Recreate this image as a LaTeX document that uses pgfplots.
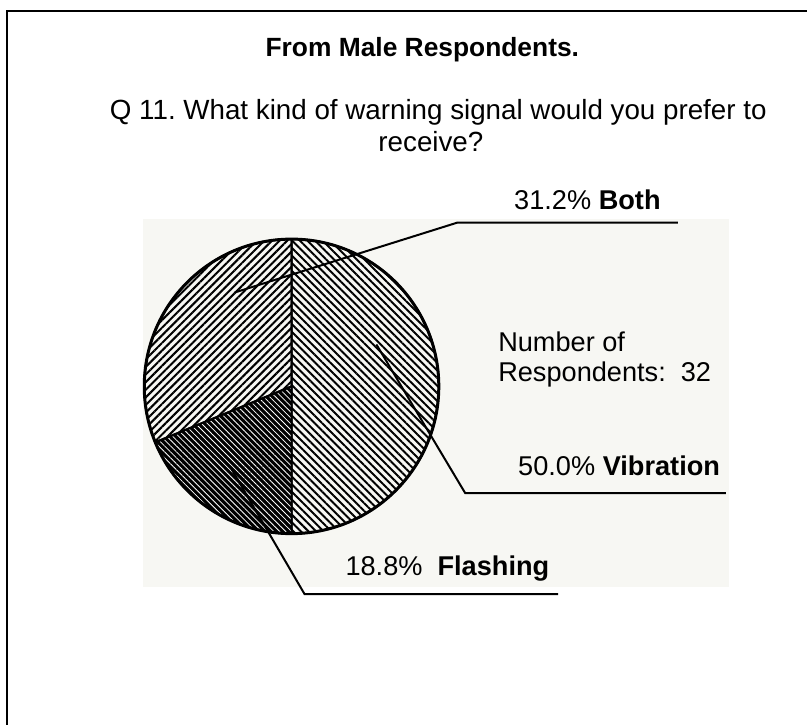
\documentclass[border=0pt]{standalone}
\usepackage{fontspec}
\setmainfont{Liberation Sans}
\usepackage{pgfplots}
\pgfplotsset{compat=1.18}
\usepackage{pgfplotstable}
\usetikzlibrary{patterns.meta}
\definecolor{panel}{RGB}{247,247,243}
\pgfplotstableread{
label value
Vibration 50.0
Flashing 18.8
Both 31.2
}\piedata
\frenchspacing
\begin{document}
\begin{tikzpicture}
\pgfplotstablegetelem{0}{value}\of\piedata \let\vVib\pgfplotsretval
\pgfplotstablegetelem{1}{value}\of\piedata \let\vFla\pgfplotsretval
\pgfplotstablegetelem{2}{value}\of\piedata \let\vBot\pgfplotsretval
\pgfmathsetmacro\aA{90}
\pgfmathsetmacro\aB{\aA-3.6*\vVib}
\pgfmathsetmacro\aC{\aB-3.6*\vFla}
\pgfmathsetmacro\aD{\aC-3.6*\vBot}
\begin{axis}[hide axis, scale only axis, width=404pt, height=363pt,
  xmin=0, xmax=808, ymin=0, ymax=726, clip=false]
\addplot[draw=none] coordinates {(0,0) (808,726)};
\addplot[fill=panel, draw=none] coordinates {(143,138) (730,138) (730,507) (143,507)};
\addplot[black, line width=1.3pt] coordinates {(7,0) (7,715) (808,715)};
% Vibration
\draw[pattern={Lines[angle=-45,distance=2.7pt,line width=1pt]}, draw=black, line width=1pt]
  (axis cs:292,339) -- ++(\aA:73.75pt) arc[start angle=\aA, end angle=\aB, radius=73.75pt] -- cycle;
% Flashing
\fill[black] (axis cs:292,339) -- ++(\aB:73.75pt) arc[start angle=\aB, end angle=\aC, radius=73.75pt] -- cycle;
\draw[pattern={Lines[angle=-45,distance=2.1pt,line width=0.4pt]}, pattern color=white, draw=black, line width=1pt]
  (axis cs:292,339) -- ++(\aB:73.75pt) arc[start angle=\aB, end angle=\aC, radius=73.75pt] -- cycle;
% Both
\draw[pattern={Lines[angle=45,distance=2.7pt,line width=1pt]}, draw=black, line width=1pt]
  (axis cs:292,339) -- ++(\aC:73.75pt) arc[start angle=\aC, end angle=\aD, radius=73.75pt] -- cycle;
\draw[line width=1.5pt] (axis cs:292,339) circle[radius=73.75pt];
% leaders
\addplot[black, line width=1pt] coordinates {(235,433) (458,503) (679,503)};
\addplot[black, line width=1pt] coordinates {(377,381) (466,232) (727,232)};
\addplot[black, line width=1pt] coordinates {(232,256) (305,131) (559,131)};
% texts
\node[anchor=base, font=\fontsize{13.2}{16}\selectfont\bfseries] at (axis cs:423,669) {From Male Respondents.};
\node[anchor=base west, font=\fontsize{13.9}{16}\selectfont] at (axis cs:103,606) {Q 11. What kind of warning signal would you prefer to};
\node[anchor=base west, font=\fontsize{13.9}{16}\selectfont] at (axis cs:372,574) {receive?};
\node[anchor=base west, font=\fontsize{13.6}{16}\selectfont] at (axis cs:508,516) {31.2\% \textbf{Both}};
\node[anchor=base west, font=\fontsize{13.6}{16}\selectfont] at (axis cs:512,250) {50.0\% \textbf{Vibration}};
\node[anchor=base west, font=\fontsize{13.6}{16}\selectfont] at (axis cs:339,150) {18.8\%\ \ \textbf{Flashing}};
\node[anchor=base west, font=\fontsize{13.6}{16}\selectfont] at (axis cs:492,374) {Number of};
\node[anchor=base west, font=\fontsize{13.6}{16}\selectfont] at (axis cs:492,344) {Respondents:\ \ 32};
\end{axis}
\end{tikzpicture}
\end{document}
